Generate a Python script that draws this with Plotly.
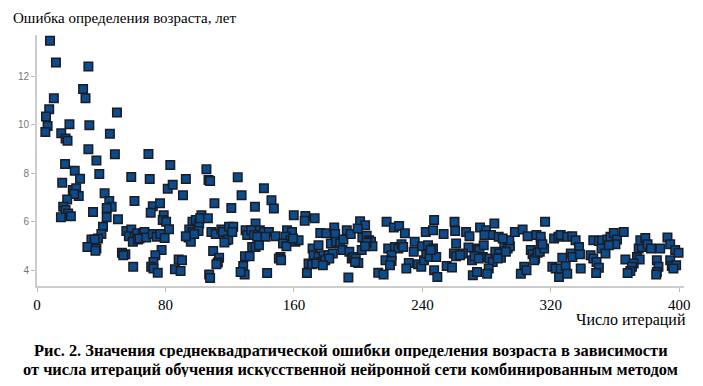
import plotly.graph_objects as go

# Iteration number (x) and RMSE of age estimation, years (y)
iterations = [
    8.1, 11.8, 32.0, 28.7, 10.5, 30.2, 7.6, 5.6, 49.8, 6.6, 5.2, 20.2, 32.6, 15.1, 17.8, 19.0, 45.4, 32.0, 48.5, 37.0,
    17.5, 38.8, 23.5, 26.8, 58.7, 15.7, 22.3, 24.4, 26.0, 42.1, 23.1, 18.8, 45.0, 46.5, 43.4, 60.7, 16.3, 17.8, 19.4, 21.1,
    14.9, 34.9, 43.4, 50.4, 41.1, 40.1, 38.0, 33.9, 35.9, 31.4, 37.0, 36.4, 55.6, 58.7, 57.2, 60.7, 62.4, 59.7, 62.8, 65.9,
    52.9, 55.0, 53.7, 59.9,
    69.4, 83.0, 105.5, 70.2, 92.7, 106.8, 107.8, 125.0, 81.4, 84.5, 90.9, 127.4, 110.5, 121.0, 72.1, 76.6, 70.8, 78.9, 78.3, 80.4,
    82.2, 66.9, 63.8, 68.0, 72.1, 74.5, 76.8, 79.5, 77.6, 73.7, 72.5, 71.1, 72.5, 75.2, 88.2, 90.3, 85.9, 89.4, 96.8, 98.9,
    101.0, 102.4, 101.6, 106.4, 94.8, 96.8, 100.6, 94.4, 95.8, 97.9, 92.7, 108.6, 111.3, 114.8, 115.9, 119.6, 122.2, 117.9, 119.1, 116.7,
    121.6, 109.7, 113.4, 112.6, 111.7, 107.2, 107.8, 129.5, 128.4, 129.3, 126.8, 129.9, 130.9,
    141.3, 146.0, 147.5, 135.7, 159.9, 167.1, 166.7, 172.9, 136.1, 133.4, 138.8, 141.3, 144.4, 135.1, 137.1, 142.3, 148.5, 134.0, 136.1, 138.2,
    132.4, 143.3, 151.6, 150.6, 152.0, 155.7, 158.8, 154.7, 157.8, 160.9, 162.9, 153.2, 155.3, 159.4, 176.4, 180.1, 185.1, 185.7, 183.0, 186.3,
    188.8, 190.8, 192.9, 195.4, 171.6, 175.3, 172.2, 175.3, 178.4, 181.5, 184.2, 176.8, 179.5, 182.0, 169.1, 171.2, 173.9, 178.0, 168.1, 190.2,
    194.5, 196.0, 193.9,
    201.2, 204.3, 199.7, 202.6, 205.3, 206.8, 208.0, 208.9, 205.3, 202.2, 204.3, 197.0, 198.5, 200.1, 198.1, 217.7, 222.2, 225.5, 229.1, 218.7,
    222.9, 225.0, 227.0, 228.0, 220.8, 217.0, 220.8, 219.8, 212.5, 215.8, 231.5, 230.0, 234.6, 235.2, 237.3, 239.3, 241.0, 242.4, 244.5, 239.8,
    243.5, 246.6, 248.6, 245.2, 242.1, 246.6, 247.3, 253.2, 247.3, 249.3, 255.1, 258.4, 260.0, 260.4, 261.0, 259.6, 261.0,
    267.2, 269.3, 268.7, 265.2, 263.5, 270.9, 271.4, 274.0, 275.9, 279.6, 282.7, 284.8, 287.5, 278.6, 274.5, 275.5, 278.2, 277.6, 272.4, 275.1,
    281.7, 283.8, 285.4, 287.9, 288.9, 286.9, 281.3, 280.3, 291.0, 293.1, 294.5, 292.0, 294.1, 297.6, 302.4, 305.5, 290.0, 303.4, 301.3, 304.8,
    307.5, 308.6, 310.2, 309.6, 311.7, 313.1, 313.7, 315.8, 311.0, 313.7, 316.4, 314.7, 322.0, 324.7, 326.1, 320.9, 323.0, 325.1, 326.1,
    330.2, 333.3, 335.4, 337.5, 332.4, 333.4, 338.1, 327.1, 329.2, 330.2, 338.6, 346.4, 349.9, 351.9, 351.5, 354.0, 344.7, 346.4, 348.4, 349.9,
    348.2, 355.1, 357.1, 359.2, 361.2, 360.2, 365.4, 356.1, 366.4, 373.6, 375.3, 371.6, 370.5, 369.5, 367.8, 374.7, 376.7, 375.7, 378.8, 380.2,
    382.3, 388.1, 386.0, 387.0, 386.0, 385.6, 392.6, 394.3, 397.4, 399.5, 394.3, 395.3, 398.0, 396.3,
]
errors = [
    13.46, 12.57, 12.40, 11.47, 11.09, 11.09, 10.64, 10.34, 10.50, 9.95, 9.70, 10.02, 9.98, 9.65, 9.43, 9.34, 9.63, 8.99, 8.78, 8.53,
    8.38, 7.97, 8.10, 7.77, 7.84, 7.61, 7.31, 7.38, 7.06, 7.17, 7.14, 6.92, 6.85, 6.62, 6.57, 6.86, 6.62, 6.48, 6.34, 6.23,
    6.18, 6.40, 6.18, 6.10, 5.79, 5.49, 5.31, 5.27, 5.27, 4.96, 4.90, 4.80, 5.62, 5.68, 5.40, 5.38, 5.52, 5.17, 5.27, 5.52,
    4.72, 4.66, 4.62, 4.14,
    8.79, 8.34, 8.16, 7.76, 7.76, 7.72, 7.68, 7.83, 7.36, 7.52, 7.09, 7.09, 6.76, 6.57, 6.64, 6.76, 6.37, 6.27, 6.07, 6.00,
    5.69, 5.58, 5.31, 5.35, 5.49, 5.38, 5.49, 5.33, 4.83, 4.62, 4.34, 4.14, 4.07, 3.90, 4.44, 4.41, 4.04, 3.97, 6.00, 6.07,
    5.93, 6.27, 6.14, 6.14, 5.68, 5.58, 5.62, 5.35, 5.17, 5.49, 5.40, 5.58, 5.49, 5.68, 5.58, 5.79, 5.79, 5.24, 5.27, 5.14,
    5.58, 4.79, 4.51, 4.32, 4.25, 3.82, 3.68, 4.58, 4.17, 3.82, 3.93, 5.65, 5.45,
    7.38, 6.89, 6.55, 6.62, 6.27, 6.24, 6.04, 6.14, 5.93, 5.65, 5.65, 5.58, 5.58, 5.45, 5.38, 5.38, 5.40, 4.96, 4.96, 5.03,
    4.58, 3.89, 4.55, 4.48, 4.41, 5.65, 5.58, 5.38, 5.24, 5.17, 5.24, 5.10, 4.99, 5.31, 5.54, 5.52, 5.76, 5.49, 5.10, 5.17,
    5.10, 5.27, 5.65, 5.49, 4.90, 5.03, 4.62, 4.55, 4.62, 4.62, 4.69, 4.34, 4.41, 4.48, 4.28, 4.25, 4.28, 4.21, 3.89, 4.83,
    4.76, 4.48, 3.70,
    6.02, 5.86, 5.72, 5.35, 5.42, 5.24, 5.17, 4.99, 5.13, 4.83, 4.99, 4.55, 4.48, 4.30, 4.34, 6.00, 5.76, 5.82, 5.52, 4.90,
    4.96, 4.90, 5.07, 4.96, 4.62, 4.41, 4.38, 4.21, 3.90, 3.82, 4.30, 4.07, 4.76, 5.17, 4.25, 4.14, 4.41, 4.69, 4.55, 4.99,
    5.03, 4.90, 4.55, 4.83, 5.58, 5.65, 6.07, 5.49, 4.00, 3.72, 4.17, 4.11, 6.00, 5.62, 5.10, 4.69, 4.58,
    5.58, 5.40, 4.94, 4.69, 4.62, 4.41, 3.79, 3.93, 5.76, 5.65, 5.45, 5.93, 5.38, 5.45, 4.90, 4.83, 5.03, 4.55, 4.58, 4.48,
    4.48, 4.34, 4.76, 4.69, 4.52, 4.48, 4.07, 3.86, 5.03, 4.90, 4.99, 4.76, 5.24, 5.58, 5.68, 5.40, 5.31, 4.14, 3.86, 4.00,
    4.83, 4.66, 4.48, 4.41, 4.72, 4.76, 5.17, 4.90, 5.45, 5.38, 6.00, 5.07, 5.31, 5.38, 5.45, 4.14, 4.07, 3.72, 4.07,
    5.38, 5.40, 5.24, 4.96, 4.69, 4.55, 4.66, 4.52, 4.17, 3.86, 4.07, 5.24, 5.21, 5.24, 4.90, 4.69, 4.62, 4.48, 4.34, 4.10,
    3.89, 5.27, 5.38, 5.54, 5.27, 5.07, 5.58, 5.03, 4.44, 4.55, 4.44, 4.28, 4.14, 3.97, 3.89, 4.90, 4.96, 5.24, 5.33, 5.07,
    4.90, 4.90, 4.41, 4.14, 3.93, 3.82, 5.35, 5.07, 4.83, 4.72, 4.41, 4.17, 4.21, 4.07,
]

x_ticks = [0, 80, 160, 240, 320, 400]
y_ticks = [4, 6, 8, 10, 12]

y_title = "Ошибка определения возраста, лет"
x_title = "Число итераций"
caption_lines = [
    "Рис. 2. Значения среднеквадратической ошибки определения возраста в зависимости",
    "от числа итераций обучения искусственной нейронной сети комбинированным методом",
]

SERIF = "Liberation Serif"

# plot area in pixels: left 37, top 35, width 650, height 251
PW, PH = 650.0, 251.0

def px_x(p):
    return (p - 37) / PW

def px_y(p):
    return (286 - p) / PH

fig = go.Figure()
fig.add_trace(go.Scatter(
    x=iterations, y=errors, mode="markers",
    marker=dict(symbol="square", size=8.5, color="#0d4c8c",
                line=dict(color="#1b1b22", width=1.5)),
    showlegend=False, hoverinfo="x+y",
))

annotations = [
    dict(text=y_title, xref="paper", yref="paper", x=px_x(11), y=px_y(18),
         xanchor="left", yanchor="middle", showarrow=False,
         font=dict(family=SERIF, size=15, color="#000000")),
    dict(text=x_title, xref="paper", yref="paper", x=px_x(691), y=px_y(320),
         xanchor="right", yanchor="middle", showarrow=False, height=16,
         font=dict(family=SERIF, size=16, color="#000000")),
]
for line, ypx in zip(caption_lines, [350, 368.5]):
    annotations.append(dict(
        text="<b>" + line + "</b>", xref="paper", yref="paper", x=px_x(352), y=px_y(ypx),
        xanchor="center", yanchor="middle", showarrow=False, height=16,
        font=dict(family=SERIF, size=16.4, color="#000000")))

fig.update_layout(
    width=703, height=386,
    margin=dict(l=37, r=16, t=35, b=100),
    paper_bgcolor="white", plot_bgcolor="white",
    xaxis=dict(
        range=[0, 402.9], tickvals=x_ticks, ticktext=[str(v) for v in x_ticks],
        showgrid=False, zeroline=False, showline=True, linecolor="#cccccc", linewidth=2,
        ticks="outside", ticklen=4, tickcolor="#bbbbbb", tickwidth=1,
        tickfont=dict(family=SERIF, size=15, color="#000000"),
    ),
    yaxis=dict(
        range=[3.35, 13.7], tickvals=y_ticks, ticktext=[str(v) for v in y_ticks],
        showgrid=False, zeroline=False, showline=True, linecolor="#cccccc", linewidth=2,
        ticks="outside", ticklen=4, tickcolor="#bbbbbb", tickwidth=1,
        tickfont=dict(family="Liberation Sans", size=10, color="#777777"),
    ),
    annotations=annotations,
)

# remove the browser's default 8px page margin so the figure sits at the window origin
fig.write_html("out.html", config={"displayModeBar": False},
               post_script="document.body.style.margin='0';")
